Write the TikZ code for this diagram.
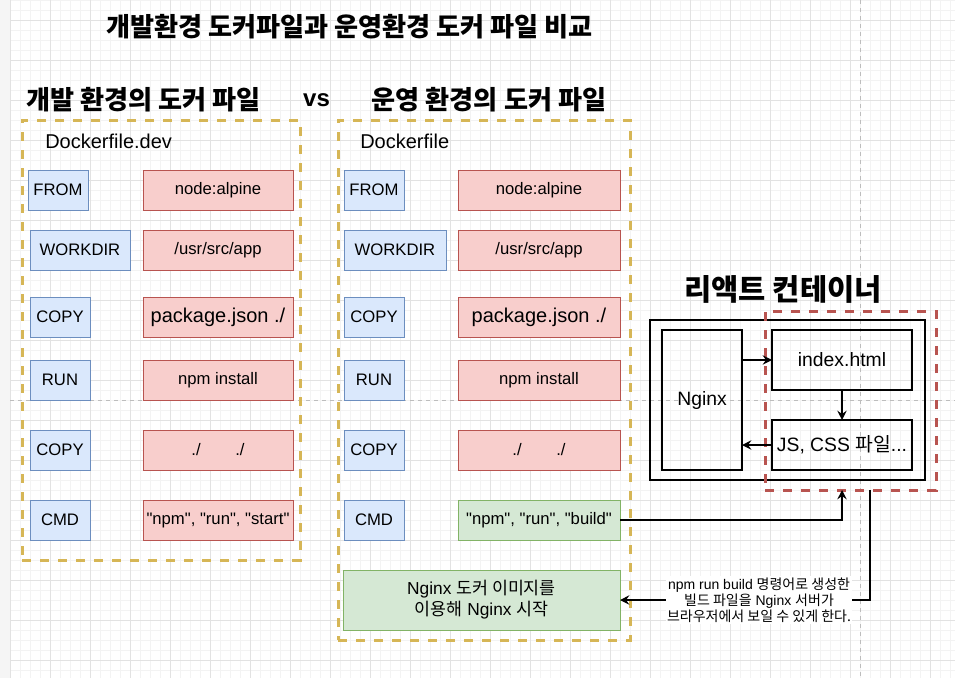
\documentclass[tikz,border=0pt]{standalone}
\usepackage{fontspec}
\setmainfont{Liberation Sans}
\newfontfamily\lsans{Liberation Sans}
\newfontfamily\kr{Noto Sans CJK KR}
\usetikzlibrary{arrows.meta,calc}
\definecolor{bluef}{HTML}{DAE8FC}
\definecolor{bluel}{HTML}{6C8EBF}
\definecolor{redf}{HTML}{F8CECC}
\definecolor{redl}{HTML}{B85450}
\definecolor{greenf}{HTML}{D5E8D4}
\definecolor{greenl}{HTML}{82B366}
\definecolor{gold}{HTML}{D6B656}
\definecolor{gridmaj}{HTML}{E2E2E2}
\definecolor{gridmin}{HTML}{F3F3F3}
\definecolor{pagebr}{HTML}{BDBDBD}
\begin{document}
\begin{tikzpicture}[x=0.75pt,y=-0.75pt,
  bx/.style={draw, line width=0.75pt, inner sep=0pt, outer sep=0pt, align=center, font=\fontsize{12.5}{15}\selectfont},
  kw/.style={bx, fill=bluef, draw=bluel},
  val/.style={bx, fill=redf, draw=redl},
  gval/.style={bx, fill=greenf, draw=greenl},
  blk/.style={draw=black, line width=1.5pt, inner sep=0pt, outer sep=0pt, align=center, font=\fontsize{14.5}{17}\selectfont},
  wd/.style={minimum width=#1*0.75pt},
  ht/.style={minimum height=#1*0.75pt},
  golddash/.style={draw=gold, line width=2.25pt, dash pattern=on 6.75pt off 6.75pt, inner sep=0pt, outer sep=0pt},
  reddash/.style={draw=redl, line width=2.25pt, dash pattern=on 6.75pt off 6.75pt, inner sep=0pt, outer sep=0pt},
  ttl/.style={inner sep=0pt, font=\fontsize{19.6}{23}\selectfont},
  fname/.style={inner sep=0pt, anchor=west, font=\fontsize{15}{18}\selectfont},
  lbl/.style={fill=white, inner sep=1pt, align=center, font=\fontsize{10.5}{12}\selectfont},
  arr/.style={-{Stealth[length=7pt,width=7pt,inset=2.5pt]}, line width=1.1pt},
  gmin/.style={draw=gridmin, line width=0.75pt},
  gmaj/.style={draw=gridmaj, line width=0.75pt},
  pbreak/.style={draw=pagebr, line width=0.75pt, dash pattern=on 3pt off 3pt}
]
\useasboundingbox (0,0) rectangle (955,678);
% background grid
\fill[white] (0,0) rectangle (955,678);
\fill[black!4] (0,0) rectangle (10,678);
\foreach \x in {10.5,20.5,...,950.5} \draw[gmin] (\x,0) -- (\x,678);
\foreach \y in {0.5,10.5,...,670.5} \draw[gmin] (10,\y) -- (955,\y);
\foreach \x in {10.5,50.5,...,930.5} \draw[gmaj] (\x,0) -- (\x,678);
\foreach \y in {20.5,60.5,...,660.5} \draw[gmaj] (10,\y) -- (955,\y);
\draw[pbreak] (860.5,0) -- (860.5,678);
\draw[pbreak] (10,400.5) -- (955,400.5);

% titles
\node[ttl] (title) at (349.5,27) {\kr\bfseries 개발환경 도커파일과 운영환경 도커 파일 비교};
\node[ttl] (devtitle) at (143.5,100) {\kr\bfseries 개발 환경의 도커 파일};
\node[ttl, font=\fontsize{18}{22}\selectfont] (vs) at (316.5,100) {\bfseries vs};
\node[ttl] (prodtitle) at (489,100) {\kr\bfseries 운영 환경의 도커 파일};

% containers
\node[golddash, wd=278, ht=440] (devbox) at (161,340) {};
\node[golddash, wd=292, ht=520] (prodbox) at (484,380) {};
\node[fname] (devname) at (45,141) {Dockerfile.dev};
\node[fname] (prodname) at (360,141) {Dockerfile};

% left column
\node[kw, wd=60, ht=40] (lfrom) at (58,190) {FROM};
\node[kw, wd=100, ht=40] (lwork) at (80,250) {WORKDIR};
\node[kw, wd=60, ht=40] (lcopy1) at (60,317) {COPY};
\node[kw, wd=60, ht=40] (lrun) at (60,380) {RUN};
\node[kw, wd=60, ht=40] (lcopy2) at (60,450) {COPY};
\node[kw, wd=60, ht=40] (lcmd) at (60,520) {CMD};
\node[val, wd=150, ht=40] (lnode) at (218,190) {node:alpine};
\node[val, wd=150, ht=40] (lapp) at (218,250) {/usr/src/app};
\node[val, wd=150, ht=40, font=\fontsize{15}{18}\selectfont] (lpkg) at (218,317) {package.json ./};
\node[val, wd=150, ht=40] (linst) at (218,380) {npm install};
\node[val, wd=150, ht=40] (lall) at (218,450) {./\hspace{26pt}./};
\node[val, wd=150, ht=40] (lstart) at (218,520) {\lsans "npm", "run", "start"};

% middle column
\node[kw, wd=60, ht=40] (pfrom) at (374,190) {FROM};
\node[kw, wd=102, ht=40] (pwork) at (395,250) {WORKDIR};
\node[kw, wd=60, ht=40] (pcopy1) at (374,317) {COPY};
\node[kw, wd=60, ht=40] (prun) at (374,380) {RUN};
\node[kw, wd=60, ht=40] (pcopy2) at (374,450) {COPY};
\node[kw, wd=60, ht=40] (pcmd) at (374,520) {CMD};
\node[val, wd=162, ht=40] (pnode) at (539,190) {node:alpine};
\node[val, wd=162, ht=40] (papp) at (539,250) {/usr/src/app};
\node[val, wd=162, ht=40, font=\fontsize{15}{18}\selectfont] (ppkg) at (539,317) {package.json ./};
\node[val, wd=162, ht=40] (pinst) at (539,380) {npm install};
\node[val, wd=162, ht=40] (pall) at (539,450) {./\hspace{26pt}./};
\node[gval, wd=162, ht=40] (build) at (539,520) {\lsans "npm", "run", "build"};
\node[gval, wd=277, ht=60, font=\fontsize{13}{15.75}\selectfont] (ngxbox) at (481.5,600) {Nginx {\kr 도커 이미지를}\\{\kr 이용해} Nginx {\kr 시작}};

% react container
\node[ttl, font=\fontsize{22.2}{26}\selectfont] (rtitle) at (783,289) {\kr\bfseries 리액트 컨테이너};
\node[blk, wd=275, ht=160] (outer) at (787.5,400) {};
\node[blk, wd=80, ht=140] (nginx) at (702,400) {Nginx};
\node[blk, wd=140, ht=60] (index) at (842,360) {index.html};
\node[blk, wd=140, ht=50] (js) at (842,445) {JS, CSS {\kr 파일}...};
\node[reddash, wd=171, ht=179] (react) at (850.5,400.5) {};

% arrows
\draw[arr] (nginx.east |- index.west) -- (index.west);
\draw[arr] (index.south) -- (js.north);
\draw[arr] (js.west) -- (nginx.east |- js.west);
\draw[arr] (build.east) -| (react.south -| js.south);
\coordinate (ret) at (870,490);
\draw[arr] (ret) |- (ngxbox.east) node[lbl, pos=0.722] (note) {npm run build {\kr 명령어로 생성한}\\{\kr 빌드 파일을} Nginx {\kr 서버가}\\{\kr 브라우저에서 보일 수 있게 한다.}};
\end{tikzpicture}
\end{document}
